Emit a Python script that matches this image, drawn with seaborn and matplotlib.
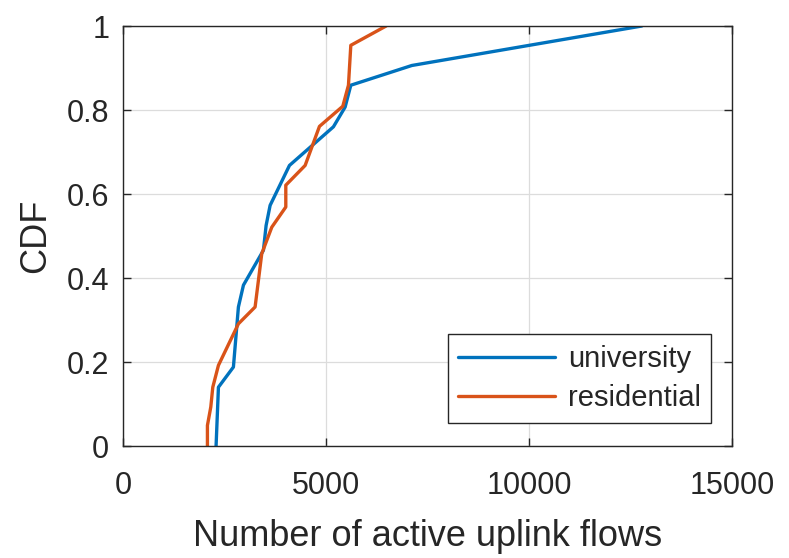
import matplotlib
matplotlib.use("Agg")
import matplotlib.pyplot as plt
import seaborn as sns
import pandas as pd

# ---------- data ----------
university_x = [2290, 2290, 2348, 2717, 2840, 2964, 3456, 3522, 3621, 4097, 5180, 5468, 5608, 7111, 12775]
university_y = [0.0, 0.0, 0.14, 0.188, 0.331, 0.383, 0.466, 0.525, 0.573, 0.668, 0.76, 0.807, 0.859, 0.906, 1.0]

residential_x = [2077, 2077, 2160, 2209, 2348, 2840, 3251, 3415, 3662, 4007, 4007, 4483, 4836, 5411, 5550, 5608, 6478]
residential_y = [0.0, 0.049, 0.093, 0.14, 0.192, 0.291, 0.331, 0.458, 0.521, 0.569, 0.621, 0.668, 0.761, 0.809, 0.859, 0.954, 1.0]

x_ticks = [0, 5000, 10000, 15000]
y_ticks = [0, 0.2, 0.4, 0.6, 0.8, 1]
y_tick_labels = ["0", "0.2", "0.4", "0.6", "0.8", "1"]

df = pd.concat([
    pd.DataFrame({"flows": university_x, "cdf": university_y, "site": "university"}),
    pd.DataFrame({"flows": residential_x, "cdf": residential_y, "site": "residential"}),
], ignore_index=True)

palette = {"university": "#0072BD", "residential": "#D95319"}

sns.set_style("white")
plt.rcParams["font.family"] = ["Liberation Sans", "DejaVu Sans"]

fig = plt.figure(figsize=(7.89, 5.58), dpi=100)
ax = fig.add_axes([0.156, 0.2007, 0.772, 0.7527])

sns.lineplot(data=df, x="flows", y="cdf", hue="site", palette=palette,
             sort=False, estimator=None, units="site", linewidth=2.4, ax=ax)

ax.set_xlim(0, 15000)
ax.set_ylim(0, 1)
ax.set_xticks(x_ticks)
ax.set_xticklabels([str(t) for t in x_ticks])
ax.set_yticks(y_ticks)
ax.set_yticklabels(y_tick_labels)

ax.grid(True, color="#dcdcdc", linewidth=0.9)
ax.set_axisbelow(True)
for s in ax.spines.values():
    s.set_color("#262626")
    s.set_linewidth(1.0)
    s.set_visible(True)

ax.tick_params(direction="in", length=6, width=1, colors="#262626",
               labelsize=22, top=True, right=True, bottom=True, left=True)
ax.tick_params(axis="x", pad=18)
ax.tick_params(axis="y", pad=10)

ax.set_xlabel("Number of active uplink flows", fontsize=26, color="#262626", labelpad=13)
ax.set_ylabel("CDF", fontsize=26, color="#262626", labelpad=10)

leg = ax.legend(loc="lower right", bbox_to_anchor=(0.9655, 0.0548), borderaxespad=0,
                fontsize=21, handlelength=3.3, handletextpad=0.45, labelspacing=0.4,
                borderpad=0.36, fancybox=False, framealpha=1, edgecolor="#262626")
leg.get_frame().set_linewidth(1.0)
for line in leg.get_lines():
    line.set_linewidth(2.4)

fig.savefig("out.png", dpi=100)
